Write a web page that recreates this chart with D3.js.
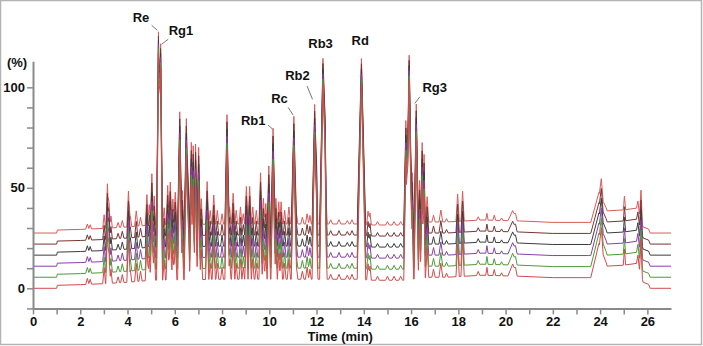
<!DOCTYPE html>
<html>
<head>
<meta charset="utf-8">
<script src="https://cdn.jsdelivr.net/npm/d3@7"></script>
<style>
  body { margin: 0; background: #fff; }
  text { font-family: "Liberation Sans", Arial, sans-serif; font-weight: bold; fill: #111; }
</style>
</head>
<body>
<svg id="chart" width="703" height="346"></svg>
<script>
// six chromatograms, stacked with a vertical offset (bottom -> top)
const traceColors  = ['#d24b4b', '#4e9a3a', '#8b3fa8', '#3d3d3d', '#7a3434', '#dc5a5a'];
const traceOffsets = [0, 5.5, 11, 16.5, 22, 27.5];
const traceGains   = [1, 0.97, 0.94, 0.91, 0.88, 0.85];

// baseline drift (min, %)
const baseTimes  = [0, 1.0, 1.03, 2.0, 3.0, 4.0, 5.0, 8.0, 12.5, 13.7, 14.4, 15.7, 16.8, 17.5, 19.0, 20.6, 22.0, 23.5, 23.62, 24.25, 25.0, 25.6, 25.82, 26.05, 26.12, 27];
const baseLevels = [0, 0, 1.5, 1.8, 2.3, 3.0, 4.0, 4.5, 4.5, 4.5, 4.0, 4.0, 5.5, 5.5, 6.5, 6.0, 5.3, 5.3, 5.3, 11.0, 11.5, 12.5, 3.0, 2.0, 0, 0];

// peak table: retention time (min), height (%), half base width (min)
const peakTimes = [2.30, 2.42, 3.01, 3.15, 3.22, 3.30, 3.60, 3.78, 4.04, 4.12, 4.37, 4.55, 4.82, 4.92, 5.03, 5.13,
  5.31, 5.40, 5.55, 5.70, 5.81, 5.92, 6.02, 6.21, 6.32, 6.49, 6.58, 6.70, 6.78, 6.88, 7.01, 7.12, 7.37, 7.50, 7.65,
  7.80, 8.00, 8.21, 8.32, 8.47, 8.60, 8.78, 8.90, 9.03, 9.17, 9.30, 9.45, 9.63, 9.75, 9.85, 9.98, 10.16, 10.28, 10.40,
  10.50, 10.65, 10.83, 11.04, 11.15, 11.40, 11.60, 11.72, 11.92, 12.00, 12.27, 12.36, 12.60, 12.95, 13.30, 13.50,
  13.90, 14.18, 14.26, 14.58, 15.00, 15.28, 15.56, 15.78, 15.92, 16.05, 16.22, 16.36, 16.47, 16.55, 16.68, 16.95,
  17.26, 17.50, 17.97, 18.18, 18.84, 19.21, 19.52, 19.83, 20.30, 20.42, 23.95, 24.05, 25.03, 25.60, 25.73];
const peakHeights = [3, 2.5, 8, 26, 15, 7, 3, 4, 21, 6, 9, 5, 18, 12, 30, 17,
  113, 106, 10, 23, 25, 15, 19, 66, 20, 62, 25, 48, 46, 47, 45, 15, 25, 8, 17,
  8, 6, 64, 10, 18, 8, 10, 6, 22, 22, 10, 8, 30, 15, 12, 34, 56, 15, 13,
  13, 8, 10, 63, 6, 4, 6, 5, 70, 20, 97, 30, 2.5, 2.5, 2, 2.5,
  97, 8, 7, 2, 2, 2, 2, 61, 99, 30, 70, 25, 47, 40, 15, 4,
  7, 2, 16, 17.5, 2, 4, 3, 1.5, 6, 2, 14, 11, 8, 4, 17];
const peakWidths = [0.07, 0.06, 0.06, 0.07, 0.05, 0.06, 0.07, 0.07, 0.07, 0.06, 0.07, 0.07, 0.07, 0.06, 0.07, 0.06,
  0.08, 0.08, 0.06, 0.07, 0.07, 0.06, 0.07, 0.09, 0.06, 0.09, 0.06, 0.07, 0.05, 0.07, 0.07, 0.06, 0.07, 0.06, 0.07,
  0.06, 0.06, 0.09, 0.06, 0.07, 0.06, 0.06, 0.06, 0.07, 0.07, 0.06, 0.06, 0.07, 0.06, 0.06, 0.07, 0.09, 0.06, 0.06,
  0.06, 0.06, 0.07, 0.11, 0.06, 0.07, 0.07, 0.06, 0.11, 0.06, 0.14, 0.09, 0.08, 0.08, 0.08, 0.08,
  0.18, 0.06, 0.06, 0.08, 0.08, 0.08, 0.08, 0.09, 0.12, 0.06, 0.09, 0.06, 0.07, 0.05, 0.07, 0.07,
  0.08, 0.07, 0.07, 0.07, 0.07, 0.05, 0.06, 0.06, 0.20, 0.06, 0.35, 0.08, 0.05, 0.06, 0.06];

// peak annotations: text anchor (min, %) and leader line (from -> to)
const labelNames  = ['Re', 'Rg1', 'Rb1', 'Rc', 'Rb2', 'Rb3', 'Rd', 'Rg3'];
const labelTimes  = [4.57, 6.26, 9.32, 10.43, 11.19, 12.17, 13.85, 17.0];
const labelValues = [132.6, 125.8, 81.2, 92.3, 103.6, 119.4, 121.0, 97.8];
const leaderFrom  = [[5.02, 130.9], [5.72, 123.9], [9.95, 81.2], [10.80, 90.0], [11.60, 100.6], null, null, [16.37, 95.3]];
const leaderTo    = [[5.26, 128.4], [5.44, 121.4], [10.14, 79.2], [11.01, 86.2], [11.83, 94.0], null, null, [16.16, 92.0]];

const yTicks = d3.range(-10, 101, 10);
const yLabels = [0, 50, 100];
const xTicks = d3.range(0, 27, 1);

const svg = d3.select('#chart');

// frame round the figure
svg.append('rect')
  .attr('x', 0.5).attr('y', 0.5)
  .attr('width', 701).attr('height', 344)
  .attr('fill', 'none')
  .attr('stroke', '#b4b4b4')
  .attr('stroke-width', 1.5);

const x = d3.scaleLinear().domain([0, 27]).range([33, 671]);
const y = d3.scaleLinear().domain([-10, 113]).range([308.4, 61.2]);
const baseline = d3.scaleLinear().domain(baseTimes).range(baseLevels).clamp(true);

// vertices: baseline knots plus foot/apex/foot of each peak
const vertexTimes = Array.from(new Set(
    baseTimes.concat(peakTimes.flatMap((t, i) => [t - peakWidths[i], t, t + peakWidths[i]]))
      .map(t => +t.toFixed(3))))
  .filter(t => t >= 0 && t <= 27)
  .sort((a, b) => a - b);

const traceValue = (t, k) => {
  let v = traceOffsets[k] + baseline(t);
  peakTimes.forEach((pt, i) => {
    const d = Math.abs(t - pt) / peakWidths[i];
    if (d < 1) v += traceGains[k] * peakHeights[i] * (1 - d);
  });
  return v;
};

const line = d3.line()
  .x(d => x(d[0]))
  .y(d => y(d[1]));

const traces = svg.append('g').attr('class', 'traces');
d3.range(traceColors.length - 1, -1, -1).forEach(k => {
  traces.append('path')
    .attr('d', line(vertexTimes.map(t => [t, traceValue(t, k)])))
    .attr('fill', 'none')
    .attr('stroke', traceColors[k])
    .attr('stroke-width', 1)
    .attr('stroke-linejoin', 'round');
});

// axes
const yAxis = d3.axisLeft(y)
  .tickValues(yTicks)
  .tickSize(6)
  .tickSizeOuter(0)
  .tickPadding(2)
  .tickFormat(d => yLabels.includes(d) ? d : '');

const yAxisG = svg.append('g')
  .attr('transform', `translate(${x(0)},0)`)
  .call(yAxis);

const xAxis = d3.axisBottom(x)
  .tickValues(xTicks)
  .tickSize(6)
  .tickSizeOuter(0)
  .tickPadding(2)
  .tickFormat(d => d % 2 === 0 ? d : '');

const xAxisG = svg.append('g')
  .attr('transform', `translate(0,${y(-10)})`)
  .call(xAxis);

[yAxisG, xAxisG].forEach(g => {
  g.select('.domain').attr('stroke', '#8a8a8a').attr('stroke-width', 2);
  g.selectAll('.tick line').attr('stroke', '#8a8a8a').attr('stroke-width', 1.5);
  g.selectAll('.tick text')
    .attr('fill', '#111')
    .style('font-family', '"Liberation Sans", Arial, sans-serif')
    .style('font-weight', 'bold')
    .style('font-size', '13px');
});

svg.append('text')
  .attr('x', 17).attr('y', 67)
  .attr('text-anchor', 'middle')
  .style('font-size', '13px')
  .text('(%)');

svg.append('text')
  .attr('x', x(13.0)).attr('y', 341)
  .attr('text-anchor', 'middle')
  .style('font-size', '13px')
  .text('Time (min)');

// peak names and leaders
const notes = svg.append('g').attr('class', 'notes');
labelNames.forEach((name, i) => {
  notes.append('text')
    .attr('x', x(labelTimes[i]))
    .attr('y', y(labelValues[i]))
    .attr('text-anchor', 'middle')
    .style('font-size', '13px')
    .text(name);
  if (leaderFrom[i]) {
    notes.append('line')
      .attr('x1', x(leaderFrom[i][0])).attr('y1', y(leaderFrom[i][1]))
      .attr('x2', x(leaderTo[i][0])).attr('y2', y(leaderTo[i][1]))
      .attr('stroke', '#777')
      .attr('stroke-width', 1);
  }
});
</script>
</body>
</html>
